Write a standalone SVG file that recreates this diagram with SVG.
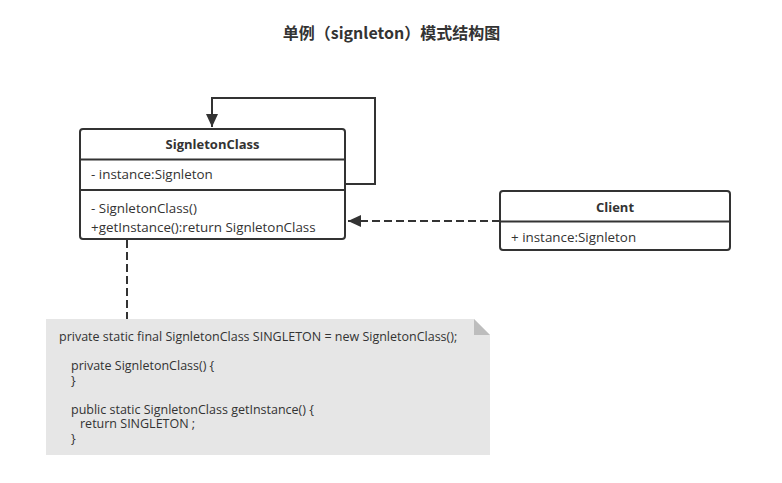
<svg xmlns="http://www.w3.org/2000/svg" width="782" height="483" viewBox="0 0 782 483">
<defs>
<style>
text{font-family:"Open Sans","Noto Sans CJK SC",sans-serif;fill:#333;font-size:13.4px}
.title{font-size:16px;font-weight:bold;font-family:"Noto Sans CJK SC","Open Sans",sans-serif}
.b{font-weight:bold;font-size:13px}
.box{fill:#fff;stroke:#333;stroke-width:2}
.ln{stroke:#333;stroke-width:2;fill:none}
.dash{stroke:#333;stroke-width:2;fill:none;stroke-dasharray:8 4}
.note{font-size:12.5px}
</style>
<marker id="arr" markerWidth="14" markerHeight="12" viewBox="0 0 14 12" refX="13" refY="6" orient="auto" markerUnits="userSpaceOnUse">
<path d="M0,0 L13,6 L0,12 Z" fill="#333"/>
</marker>
</defs>
<rect width="782" height="483" fill="#fff"/>
<text class="title" x="391.5" y="39" text-anchor="middle">单例（signleton）模式结构图</text>
<g id="connectors">
<path class="ln" d="M345,184 L375,184 L375,98 L212,98 L212,127" marker-end="url(#arr)"/>
<path class="dash" d="M500,221 L348,221" marker-end="url(#arr)"/>
<path class="dash" d="M127,240 L127,319"/>
</g>
<g id="SignletonClass">
<rect class="box" x="80" y="129" width="265" height="110" rx="3"/>
<path class="ln" d="M80,159.5 H345 M80,190 H345"/>
<text class="b" x="212.5" y="149" text-anchor="middle">SignletonClass</text>
<text x="91" y="179">- instance:Signleton</text>
<text x="91" y="213">- SignletonClass()</text>
<text x="91" y="231.5">+getInstance():return SignletonClass</text>
</g>
<g id="Client">
<rect class="box" x="500" y="191" width="230" height="59" rx="3"/>
<path class="ln" d="M500,221.5 H730"/>
<text class="b" x="615" y="212" text-anchor="middle">Client</text>
<text x="511" y="242">+ instance:Signleton</text>
</g>
<g id="note">
<path d="M46,319 H474 L490,335 V455 H46 Z" fill="#e6e6e6"/>
<path d="M474,319 L490,335 H474 Z" fill="#bdbdbd"/>
<text class="note" x="59" y="341">private static final SignletonClass SINGLETON = new SignletonClass();</text>
<text class="note" x="71" y="370">private SignletonClass() {</text>
<text class="note" x="71" y="384.5">}</text>
<text class="note" x="71" y="413.5">public static SignletonClass getInstance() {</text>
<text class="note" x="80" y="428">return SINGLETON ;</text>
<text class="note" x="71" y="442.5">}</text>
</g>
</svg>
